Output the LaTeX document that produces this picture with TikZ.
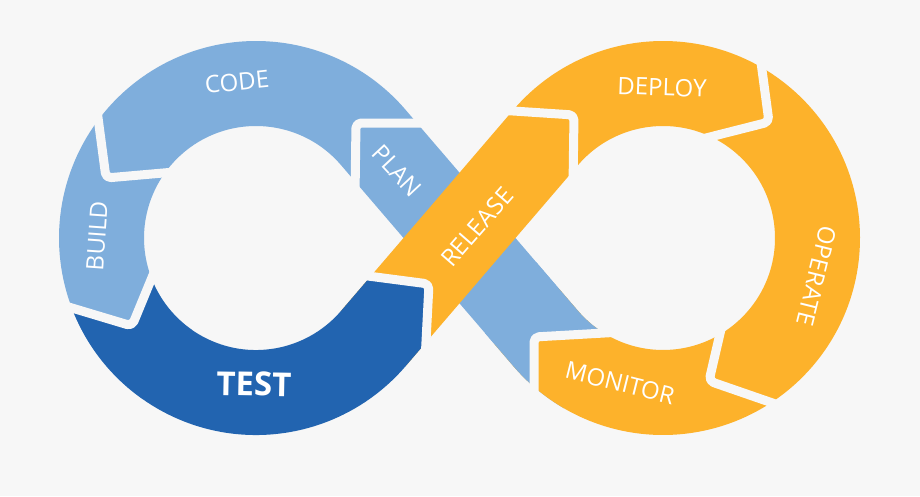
\documentclass[tikz,border=0pt]{standalone}
\usepackage{fontspec}
\setmainfont{Open Sans}
\usetikzlibrary{calc}
\definecolor{bgc}{HTML}{F7F7F7}
\definecolor{lblue}{HTML}{7FAEDC}
\definecolor{dblue}{HTML}{2264B0}
\definecolor{orng}{HTML}{FDB22B}
\begin{document}
\begin{tikzpicture}[x=1pt,y=-1pt,
  band/.style={line width=85pt, line cap=butt, line join=round},
  gap/.style={draw=bgc, line width=9pt, rounded corners=5pt, line cap=butt, line join=round},
  lbl/.style={text=white, font=\fontsize{24}{28}\selectfont, inner sep=0pt}]
\useasboundingbox (0,0) rectangle (920,496);
\fill[bgc] (0,0) rectangle (920,496);
\pgfmathsetmacro\TA{90-asin(154.5/203.5)}
\coordinate (C1) at (256,238);
\coordinate (C2) at (663,238);
\coordinate (T1) at ($(C1)+({-\TA}:154.5)$);
\coordinate (T2) at ($(C1)+({\TA}:154.5)$);
\coordinate (T3) at ($(C2)+({180+\TA}:154.5)$);
\coordinate (T4) at ($(C2)+({180-\TA}:154.5)$);
% light blue: PLAN, CODE, BUILD
\draw[band, lblue] ($(C2)+(120:154.5)$) arc[start angle=120, end angle={180-\TA}, radius=154.5]
  -- (T1) arc[start angle={-\TA}, end angle=-235, radius=154.5];
% orange: RELEASE, DEPLOY, OPERATE, MONITOR
\draw[band, orng] (T2) -- (T3) arc[start angle={180+\TA}, end angle={540-\TA}, radius=154.5]
  -- ($(T4)!30pt!(T1)$);
% PLAN end over MONITOR extension
\begin{scope}
  \clip (625,333) -- (534,337) -- (534,430) -- (485,430) -- (485,300) -- (510,262) -- (625,262) -- cycle;
  \draw[band, lblue] ($(C2)+(125:154.5)$) arc[start angle=125, end angle={180-\TA}, radius=154.5]
    -- ($(T4)!150pt!(T1)$);
\end{scope}
% dark blue: TEST
\begin{scope}
  \clip (30,296) -- (132,326) -- (160,258) -- (345,273) -- (429,284) -- (424,480) -- (30,480) -- cycle;
  \draw[band, dblue] ($(C1)+(-190:154.5)$) arc[start angle=-190, end angle={-360+\TA}, radius=154.5]
    -- ($(T2)!100pt!(T3)$);
\end{scope}
% gaps between the stages
\draw[gap] (432,123) -- (356,123) -- (355,196);
\draw[gap] (95,95) -- (106,178) -- (186,171);
\draw[gap] (52,302) -- (132,326) -- (160,258);
\draw[gap] (345,273) -- (429,284) -- (424,380);
\draw[gap] (498,110) -- (574,115) -- (573,186);
\draw[gap] (758,40) -- (769,122) -- (698,140);
\draw[gap] (725,312) -- (709,381) -- (787,408);
\draw[gap] (622,332) -- (534,337) -- (534,402);
% labels
\node[lbl, rotate=6] (code) at (237,82) {CODE};
\node[lbl, rotate=-47] (plan) at (397,171) {PLAN};
\node[lbl, rotate=86] (build) at (97,236) {BUILD};
\node[lbl, rotate=-1, font=\fontsize{33}{38}\selectfont\bfseries] (test) at (254,384) {TEST};
\node[lbl, rotate=49] (release) at (477,227) {RELEASE};
\node[lbl, rotate=-2] (deploy) at (662,87) {DEPLOY};
\node[lbl, rotate=-104] (operate) at (817,276) {OPERATE};
\node[lbl, rotate=-14] (monitor) at (620,383) {MONITOR};
\end{tikzpicture}
\end{document}
